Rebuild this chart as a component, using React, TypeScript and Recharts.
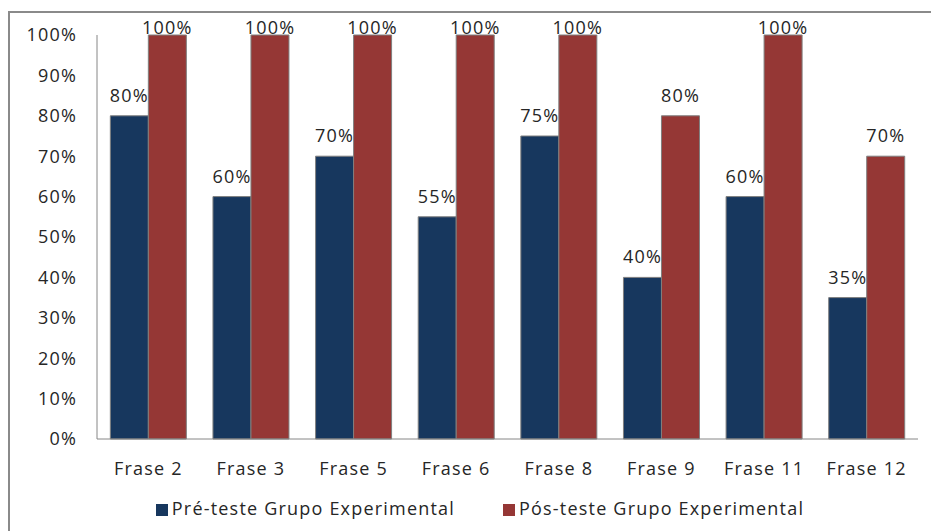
import { Bar, BarChart, XAxis, YAxis, Legend, LabelList } from 'recharts';

const categories = ['Frase 2', 'Frase 3', 'Frase 5', 'Frase 6', 'Frase 8', 'Frase 9', 'Frase 11', 'Frase 12'];
const preTeste = [80, 60, 70, 55, 75, 40, 60, 35];
const posTeste = [100, 100, 100, 100, 100, 80, 100, 70];
const yTicks = [0, 10, 20, 30, 40, 50, 60, 70, 80, 90, 100];

const data = categories.map((name, i) => ({
    name,
    pre: preTeste[i],
    pos: posTeste[i],
}));

const FONT = '"Open Sans", sans-serif';
const SPACING = 1.2;
const PLOT_TOP = 35;

// Excel pushes labels that would leave the plot back inside it
function TopLabel(props: any) {
    const { x, y, width, value } = props;
    const ty = Math.max(y - 14, PLOT_TOP - 1);
    return (
        <text
            x={x + width / 2}
            y={ty}
            textAnchor="middle"
            fontSize={18}
            fontFamily={FONT}
            letterSpacing={SPACING}
            fill="#262626"
        >
            {value}%
        </text>
    );
}

export default function App() {
    return (
        <div style={{ position: 'absolute', left: 0, top: 0, width: 931, height: 531, background: '#fff' }}>
            {/* outer chart frame, only top and left edges visible */}
            <div
                style={{
                    position: 'absolute',
                    left: 8,
                    top: 11,
                    right: 0,
                    bottom: 0,
                    borderTop: '2px solid #8a8a8a',
                    borderLeft: '2px solid #8a8a8a',
                }}
            />
            <BarChart
                width={931}
                height={531}
                data={data}
                margin={{ top: PLOT_TOP, right: 13, left: 0, bottom: 0 }}
                barCategoryGap="13%"
                barGap={0}
                style={{ position: 'absolute', left: 0, top: 0 }}
            >
                <XAxis
                    dataKey="name"
                    stroke="#868686"
                    tickLine={false}
                    tickMargin={17}
                    height={60}
                    interval={0}
                    tick={{ fontSize: 18, fontFamily: FONT, fill: '#262626', letterSpacing: SPACING }}
                />
                <YAxis
                    domain={[0, 100]}
                    ticks={yTicks}
                    width={97}
                    stroke="#868686"
                    tickLine={false}
                    tickMargin={14}
                    tickFormatter={(v: number) => `${v}%`}
                    tick={{ fontSize: 18, fontFamily: FONT, fill: '#262626', letterSpacing: SPACING }}
                />
                <Legend
                    verticalAlign="bottom"
                    iconType="square"
                    iconSize={12}
                    height={32}
                    wrapperStyle={{ bottom: 3, fontFamily: FONT, fontSize: 18, letterSpacing: SPACING, left: 26 }}
                    formatter={(value: string, _entry: any, index: number) => (
                        <span style={{ color: '#262626', marginRight: index === 0 ? 38 : 0 }}>{value}</span>
                    )}
                />
                <Bar
                    dataKey="pre"
                    name="Pré-teste Grupo Experimental"
                    fill="#17375E"
                    stroke="#7f7f7f"
                    strokeWidth={1}
                    isAnimationActive={false}
                >
                    <LabelList dataKey="pre" content={TopLabel} />
                </Bar>
                <Bar
                    dataKey="pos"
                    name="Pós-teste Grupo Experimental"
                    fill="#953735"
                    stroke="#7f7f7f"
                    strokeWidth={1}
                    isAnimationActive={false}
                >
                    <LabelList dataKey="pos" content={TopLabel} />
                </Bar>
            </BarChart>
        </div>
    );
}
